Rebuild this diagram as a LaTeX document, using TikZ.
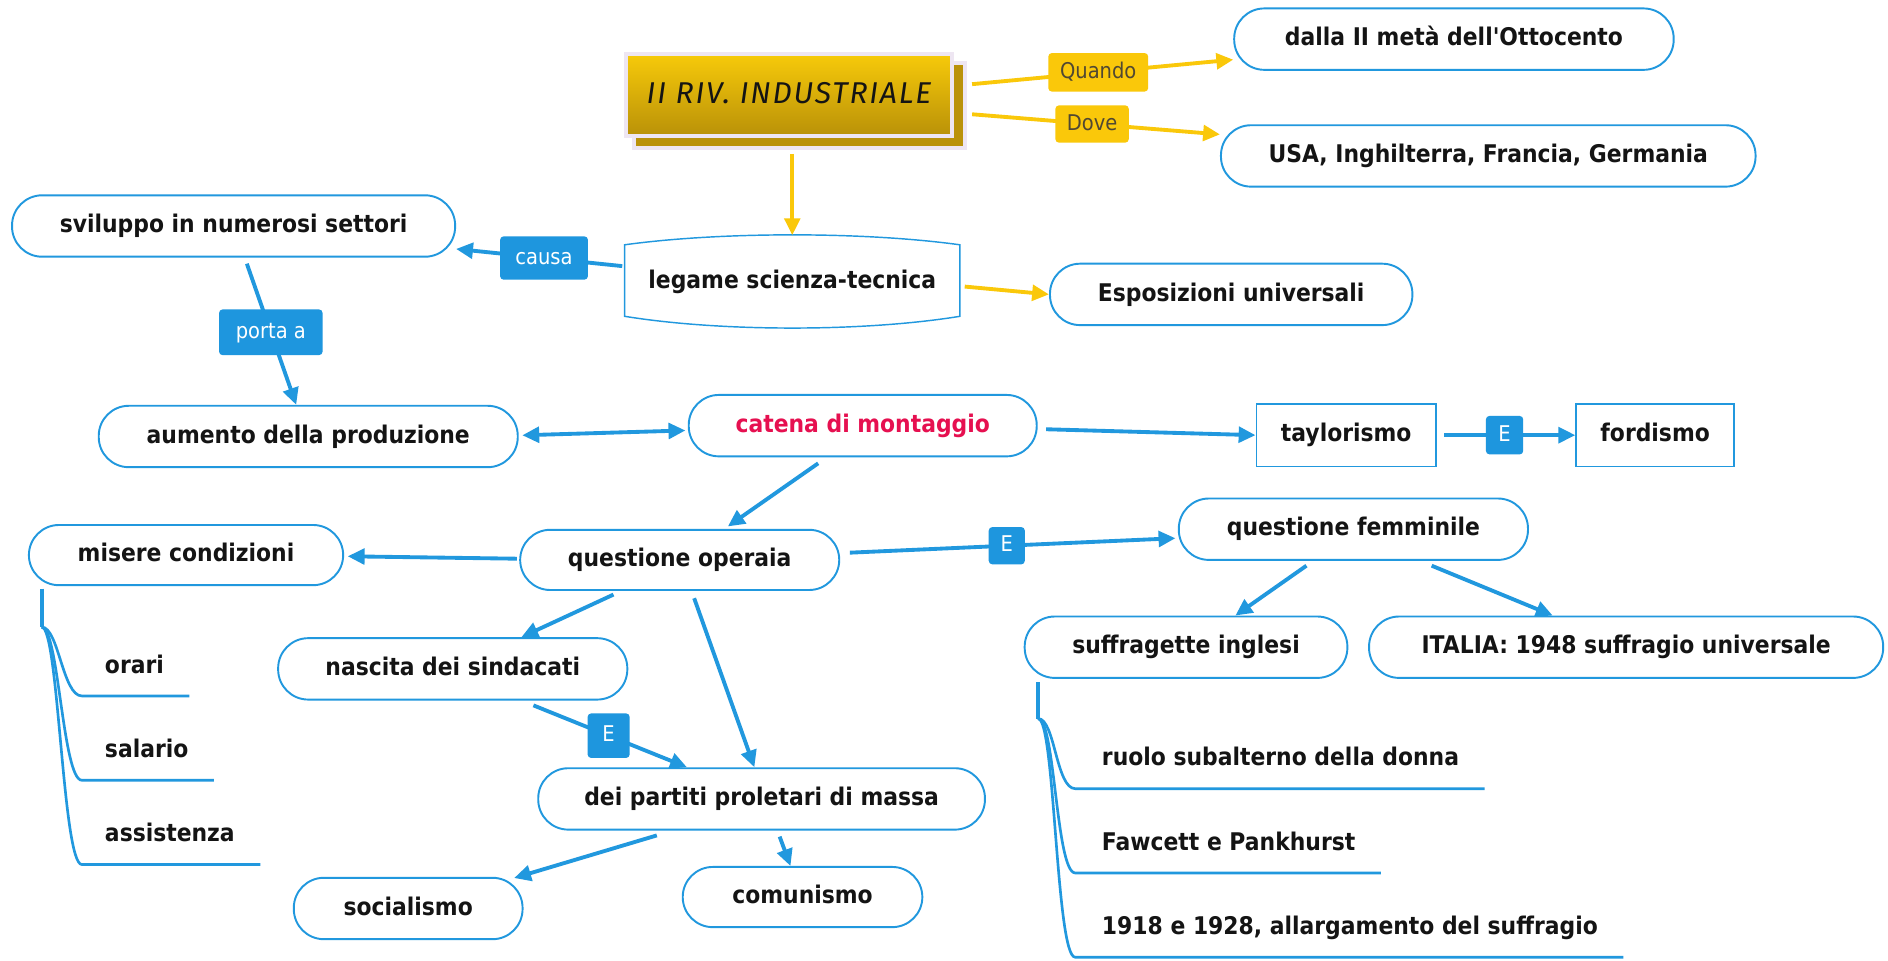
\documentclass[tikz,border=0pt]{standalone}
\usepackage{fontspec}
\setmainfont{DejaVu Sans}[FakeStretch=0.9, Ligatures=TeXOff]
\newfontfamily\titlefont{Fira Sans}[LetterSpace=6]
\usetikzlibrary{arrows.meta,calc}
\definecolor{bblue}{RGB}{33,152,222}
\definecolor{lblue}{RGB}{30,150,222}
\definecolor{yel}{RGB}{250,200,10}
\definecolor{ylabtxt}{RGB}{80,72,50}
\definecolor{gtop}{RGB}{247,202,10}
\definecolor{gbot}{RGB}{185,145,8}
\definecolor{gshadow}{RGB}{186,146,10}
\definecolor{lav}{RGB}{238,230,242}
\definecolor{crim}{RGB}{230,16,80}
\definecolor{txt}{RGB}{20,20,20}
\newcommand{\boxfont}{\fontsize{20.2pt}{24pt}\selectfont\bfseries}
\newcommand{\labfont}{\fontsize{18pt}{21pt}\selectfont}
\tikzset{
  box/.style={draw=bblue, line width=1.6pt, fill=white, rounded corners=25pt,
    minimum height=51pt, inner sep=0pt, font=\boxfont, text=txt,
    text height=15pt, text depth=4pt},
  sqbox/.style={box, rounded corners=0pt},
  blab/.style={fill=lblue, rounded corners=3pt, text=white, font=\labfont,
    inner sep=0pt, text height=13pt, text depth=3pt},
  ylab/.style={fill=yel, rounded corners=3pt, text=ylabtxt, font=\labfont,
    inner sep=0pt, text height=13pt, text depth=3pt},
  bline/.style={draw=bblue, line width=3.2pt},
  barrow/.style={bline, -{Triangle[length=14pt,width=13pt]}},
  bdarrow/.style={bline, {Triangle[length=14pt,width=13pt]}-{Triangle[length=14pt,width=13pt]}},
  yline/.style={draw=yel, line width=3.2pt},
  yarrow/.style={yline, -{Triangle[length=14pt,width=13pt]}},
  item/.style={font=\boxfont, text=txt, inner sep=0pt, anchor=base west},
  stub/.style={draw=bblue, line width=3.6pt},
  branch/.style={draw=bblue, line width=2.2pt},
}
\begin{document}
\begin{tikzpicture}[x=1pt,y=-1pt]
\useasboundingbox[fill=white] (0,0) rectangle (1568,797.3);

% title shadow
\fill[lav] (524.5,50.5) rectangle (803,124.5);
\fill[gshadow] (528,54) rectangle (799.5,121);
\node[draw=lav, line width=3.5pt, top color=gtop, bottom color=gbot,
  minimum width=270.6pt, minimum height=68.2pt, inner sep=0pt] (title) at (655.3,78.9)
  {\raisebox{3pt}{\titlefont\itshape\fontsize{25pt}{30pt}\selectfont\color{txt}II RIV. INDUSTRIALE}};

% main nodes
\node[box, minimum width=365pt] (dalla) at (1207.5,32.5) {dalla II metà dell'Ottocento};
\node[box, minimum width=444pt] (usa) at (1236,129.5) {USA, Inghilterra, Francia, Germania};
\node[font=\boxfont, text=txt, minimum width=278pt, minimum height=77pt, inner sep=0pt,
  text height=15pt, text depth=4pt] (leg) at (658,234) {legame scienza-tecnica};
\draw[bblue, line width=1.2pt]
  ($(leg.north west)+(0,8)$) .. controls ($(leg.north west)+(80,-3)$) and ($(leg.north east)+(-80,-3)$) .. ($(leg.north east)+(0,8)$)
  -- ($(leg.south east)+(0,-10)$) .. controls ($(leg.south east)+(-80,3)$) and ($(leg.south west)+(80,3)$) .. ($(leg.south west)+(0,-10)$)
  -- cycle;
\node[box, minimum width=368pt] (svil) at (194,187.7) {sviluppo in numerosi settori};
\node[box, minimum width=301pt] (espo) at (1022.5,244.5) {Esposizioni universali};
\node[box, minimum width=348pt] (aum) at (256,362.5) {aumento della produzione};
\node[box, minimum width=289pt, text=crim] (cat) at (716.5,353.5) {catena di montaggio};
\node[sqbox, minimum width=149pt, minimum height=52pt] (tay) at (1118,361.4) {taylorismo};
\node[sqbox, minimum width=131pt, minimum height=52pt] (ford) at (1374.6,361.4) {fordismo};
\node[box, minimum width=261pt, minimum height=50pt] (misere) at (154.5,461) {misere condizioni};
\node[box, minimum width=265pt, minimum height=50pt] (qop) at (564.5,465) {questione operaia};
\node[box, minimum width=290pt] (qfem) at (1124,439.5) {questione femminile};
\node[box, minimum width=290pt] (nasc) at (376,555.5) {nascita dei sindacati};
\node[box, minimum width=371pt] (partiti) at (632.5,663.5) {dei partiti proletari di massa};
\node[box, minimum width=190pt] (social) at (339,754.5) {socialismo};
\node[box, minimum width=199pt, minimum height=50pt] (comun) at (666.5,745) {comunismo};
\node[box, minimum width=268pt] (suff) at (985,537.5) {suffragette inglesi};
\node[box, minimum width=427pt] (italia) at (1350.5,537.5) {ITALIA: 1948 suffragio universale};

% yellow connectors
\draw[yarrow] ($(title.east)+(15,-9)$) -- node[ylab, pos=0.483, minimum width=83pt, minimum height=32pt] (quando) {Quando} (dalla);
\draw[yarrow] ($(title.east)+(15,16)$) -- node[ylab, pos=0.484, minimum width=61pt, minimum height=31pt] (dove) {Dove} (usa);
\draw[yarrow] ($(title.south -| leg.north)+(0,13)$) -- (leg.north);
\draw[yarrow] ($(leg.east)+(4,4)$) -- (espo.west);

% blue connectors
\draw[barrow] ($(leg.west)+(-2,-13)$) -- node[blab, pos=0.471, minimum width=73pt, minimum height=36pt] (causa) {causa} (svil);
\draw[barrow] ($(svil.south)+(11,5)$) -- node[blab, pos=0.486, minimum width=86pt, minimum height=38pt] (porta) {porta a} ($(aum.north)+(-10,0)$);
\draw[bdarrow] ($(aum.east)+(3,-1)$) -- ($(cat.west)+(-2,4)$);
\draw[barrow] ($(cat.east)+(7,3)$) -- (tay.west);
\draw[barrow] ($(tay.east)+(6,0)$) -- node[blab, pos=0.461, minimum width=31pt, minimum height=32pt] (e1) {E} (ford.west);
\draw[barrow] ($(cat.south)+(-37,5)$) -- ($(qop.north)+(40,-2)$);
\draw[barrow] ($(qop.west)+(-2,-1)$) -- ($(misere.east)+(3,1)$);
\draw[barrow] ($(qop.east)+(8,-6)$) -- node[blab, pos=0.482, minimum width=30pt, minimum height=31pt] (e2) {E} ($(qfem.west)+(-2,7.5)$);
\draw[barrow] ($(qop.south)+(-55,3)$) -- ($(nasc.north)+(57,0)$);
\draw[barrow] ($(qop.south)+(12,6)$) -- ($(partiti.north)+(-6,0)$);
\draw[barrow] ($(nasc.south)+(67,4)$) -- node[blab, pos=0.49, minimum width=35pt, minimum height=37pt] (e3) {E} ($(partiti.north)+(-62,0)$);
\draw[barrow] ($(partiti.south)+(-87,4)$) -- ($(social.north)+(88,1)$);
\draw[barrow] ($(partiti.south)+(15,5)$) -- ($(comun.north)+(-10,0)$);
\draw[barrow] ($(qfem.south)+(-39,4)$) -- ($(suff.north)+(41,0)$);
\draw[barrow] ($(qfem.south)+(65,4)$) -- ($(italia.north)+(-61,0)$);

% misere condizioni list
\node[item] (orari) at (87,559) {orari};
\node[item] (salario) at (87,629) {salario};
\node[item] (assist) at (87,699) {assistenza};
\draw[stub] ($(misere.south west)+(11.5,2)$) -- ++(0,32) coordinate (mroot);
\foreach \n in {orari,salario,assist}{
  \draw[branch] (mroot) .. controls +(14,0) and +(-16,0) .. ($(\n.base west)+(-19,19)$) -- ($(\n.base east)+(21,19)$);
}

% suffragette list
\node[item] (ruolo) at (915,636) {ruolo subalterno della donna};
\node[item] (fawcett) at (915,706) {Fawcett e Pankhurst};
\node[item] (anni) at (915,776) {1918 e 1928, allargamento del suffragio};
\draw[stub] ($(suff.south west)+(12,3)$) -- ++(0,30) coordinate (sroot);
\foreach \n in {ruolo,fawcett,anni}{
  \draw[branch] (sroot) .. controls +(14,0) and +(-16,0) .. ($(\n.base west)+(-22,19)$) -- ($(\n.base east)+(21,19)$);
}
\end{tikzpicture}
\end{document}
